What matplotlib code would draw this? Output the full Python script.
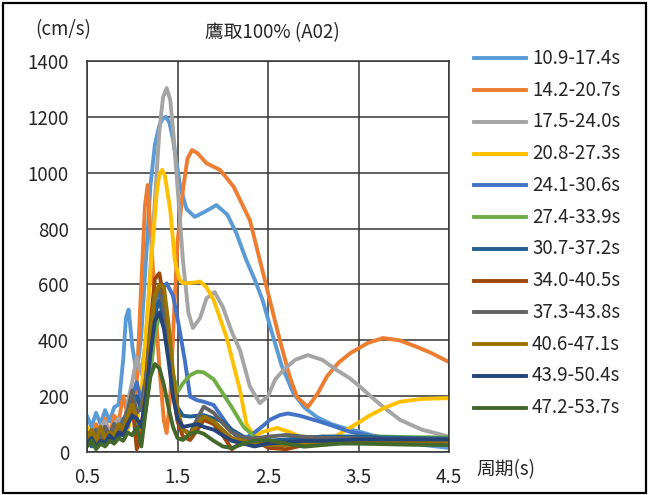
import matplotlib
matplotlib.use('Agg')
import matplotlib.pyplot as plt
from matplotlib.lines import Line2D
from matplotlib.patches import Rectangle

plt.rcParams['font.family'] = ['Noto Sans CJK JP', 'DejaVu Sans']

labels = ['10.9-17.4s', '14.2-20.7s', '17.5-24.0s', '20.8-27.3s', '24.1-30.6s', '27.4-33.9s',
          '30.7-37.2s', '34.0-40.5s', '37.3-43.8s', '40.6-47.1s', '43.9-50.4s', '47.2-53.7s']
colors = ['#5B9BD5', '#ED7D31', '#A5A5A5', '#FFC000', '#4472C4', '#70AD47',
          '#255E91', '#9E480E', '#636363', '#997300', '#264478', '#43682B']

# 10.9-17.4s
x1 = [0.5, 0.55, 0.6, 0.65, 0.7, 0.75, 0.8, 0.85, 0.9, 0.93, 0.96, 1.0, 1.05, 1.1, 1.15, 1.2, 1.25, 1.3,
      1.34, 1.37, 1.41, 1.45, 1.53, 1.6, 1.69, 1.8, 1.93, 2.05, 2.15, 2.26, 2.35, 2.44, 2.55, 2.65, 2.78,
      2.9, 3.04, 3.2, 3.35, 3.52, 3.7, 3.9, 4.1, 4.3, 4.5]
y1 = [130, 90, 140, 100, 150, 110, 160, 170, 330, 480, 510, 380, 280, 420, 680, 950, 1100, 1170,
      1195, 1200, 1180, 1120, 950, 870, 842, 860, 884, 850, 784, 687, 620, 544, 420, 310, 211,
      160, 125, 100, 85, 72, 55, 40, 30, 22, 15]

# 14.2-20.7s
x2 = [0.5, 0.55, 0.6, 0.65, 0.7, 0.75, 0.8, 0.85, 0.9, 0.95, 1.0, 1.05, 1.1, 1.14, 1.17, 1.2, 1.25, 1.3,
      1.35, 1.38, 1.42, 1.46, 1.5, 1.56, 1.61, 1.66, 1.72, 1.82, 1.97, 2.12, 2.3, 2.41, 2.52, 2.63, 2.74,
      2.82, 2.94, 3.05, 3.15, 3.28, 3.41, 3.6, 3.77, 3.95, 4.14, 4.3, 4.5]
y2 = [80, 40, 100, 60, 120, 60, 130, 110, 200, 130, 120, 250, 600, 880, 956, 800, 550, 300,
      110, 68, 200, 480, 750, 938, 1050, 1081, 1070, 1034, 1010, 950, 830, 687, 544, 401, 270,
      197, 161, 210, 270, 320, 354, 390, 408, 400, 377, 355, 322]

# 17.5-24.0s
x3 = [0.5, 0.55, 0.6, 0.65, 0.7, 0.75, 0.8, 0.85, 0.9, 0.95, 1.0, 1.05, 1.1, 1.15, 1.2, 1.25, 1.3, 1.34,
      1.38, 1.42, 1.46, 1.5, 1.56, 1.62, 1.67, 1.75, 1.82, 1.91, 2.0, 2.1, 2.19, 2.3, 2.41, 2.5, 2.58,
      2.67, 2.8, 2.94, 3.1, 3.26, 3.4, 3.52, 3.65, 3.77, 3.96, 4.2, 4.5]
y3 = [50, 80, 40, 90, 110, 60, 100, 120, 80, 180, 250, 340, 280, 400, 650, 900, 1150, 1270,
      1303, 1260, 1120, 950, 687, 500, 444, 480, 550, 573, 520, 430, 365, 234, 175, 200, 260,
      293, 330, 347, 330, 293, 265, 233, 195, 162, 115, 80, 55]

# 20.8-27.3s
x4 = [0.5, 0.55, 0.6, 0.65, 0.7, 0.75, 0.8, 0.85, 0.9, 0.95, 1.0, 1.05, 1.1, 1.15, 1.21, 1.27, 1.3, 1.33,
      1.36, 1.42, 1.47, 1.52, 1.56, 1.64, 1.75, 1.82, 1.9, 2.04, 2.19, 2.26, 2.3, 2.36, 2.45, 2.6, 2.75,
      2.85, 3.07, 3.2, 3.33, 3.5, 3.63, 3.8, 3.96, 4.2, 4.5]
y4 = [90, 50, 80, 40, 70, 50, 90, 60, 110, 80, 140, 120, 200, 420, 687, 927, 995, 1010,
      990, 866, 687, 620, 605, 605, 610, 590, 544, 413, 222, 103, 79, 60, 73, 86, 70,
      55, 31, 45, 73, 105, 132, 160, 180, 190, 193]

# 24.1-30.6s
x5 = [0.5, 0.55, 0.6, 0.65, 0.7, 0.75, 0.8, 0.85, 0.9, 0.95, 1.0, 1.05, 1.1, 1.15, 1.2, 1.25, 1.3, 1.38,
      1.45, 1.51, 1.58, 1.64, 1.72, 1.79, 1.9, 2.04, 2.15, 2.25, 2.34, 2.45, 2.52, 2.63, 2.72, 2.85, 3.07,
      3.25, 3.4, 3.6, 3.88, 4.2, 4.5]
y5 = [60, 30, 80, 40, 90, 50, 100, 70, 120, 90, 200, 250, 180, 260, 380, 480, 570, 604,
      560, 461, 330, 198, 185, 180, 168, 103, 55, 50, 67, 95, 115, 132, 138, 130, 109,
      90, 73, 60, 49, 45, 43]

# shared x for the rest
xs = [0.5, 0.55, 0.6, 0.65, 0.7, 0.75, 0.8, 0.85, 0.9, 0.95, 1.0, 1.05, 1.1, 1.15, 1.2, 1.25, 1.3, 1.35,
      1.4, 1.45, 1.5, 1.56, 1.64, 1.72, 1.79, 1.9, 2.0, 2.1, 2.23, 2.35, 2.5, 2.7, 2.9, 3.1, 3.3,
      3.5, 3.8, 4.1, 4.5]
y6 = [30, 60, 20, 50, 40, 70, 50, 80, 60, 110, 170, 100, 80, 150, 280, 420, 490, 470,
      380, 280, 215, 246, 275, 288, 285, 260, 210, 160, 90, 55, 30, 35, 50, 55, 55,
      55, 55, 53, 52]
y7 = [40, 20, 50, 30, 60, 40, 70, 50, 90, 110, 160, 200, 150, 230, 380, 500, 540, 480,
      350, 230, 160, 130, 127, 130, 132, 120, 110, 80, 55, 40, 40, 45, 50, 55, 55,
      55, 52, 50, 48]
y8 = [60, 30, 70, 40, 80, 50, 60, 90, 70, 120, 180, 10, 60, 250, 450, 620, 640, 540,
      380, 220, 110, 55, 43, 80, 115, 100, 60, 10, 40, 45, 15, 10, 25, 37, 35,
      35, 35, 38, 40]
y9 = [70, 40, 80, 50, 90, 60, 100, 80, 110, 150, 220, 140, 160, 260, 430, 560, 580, 520,
      380, 230, 120, 80, 67, 120, 162, 140, 103, 70, 50, 49, 55, 61, 55, 50, 50,
      48, 45, 45, 45]
y10 = [50, 80, 40, 90, 50, 70, 60, 100, 80, 130, 170, 120, 80, 230, 420, 560, 600, 590,
       460, 290, 150, 80, 61, 100, 127, 110, 79, 50, 40, 30, 25, 25, 30, 30, 35,
       38, 40, 40, 40]
y11 = [30, 50, 20, 40, 30, 60, 40, 70, 60, 100, 130, 120, 90, 200, 350, 470, 500, 440,
       330, 200, 120, 90, 95, 100, 90, 80, 60, 40, 30, 20, 30, 35, 40, 40, 42,
       45, 45, 45, 45]
y12 = [20, 40, 10, 30, 20, 40, 30, 50, 40, 70, 60, 90, 20, 150, 270, 315, 300, 240,
       160, 90, 50, 43, 65, 73, 65, 40, 20, 14, 30, 40, 43, 30, 19, 25, 30,
       30, 28, 26, 25]

xticks = [0.5, 1.5, 2.5, 3.5, 4.5]
yticks = [0, 200, 400, 600, 800, 1000, 1200, 1400]


def main():
    series = [(x1, y1), (x2, y2), (x3, y3), (x4, y4), (x5, y5), (xs, y6),
              (xs, y7), (xs, y8), (xs, y9), (xs, y10), (xs, y11), (xs, y12)]

    fig = plt.figure(figsize=(6.51, 4.95), dpi=100)
    ax = fig.add_axes([87 / 651, 43 / 495, 362 / 651, 391 / 495])

    for (x, y), c in zip(series, colors):
        ax.plot(x, y, color=c, lw=2.8, solid_joinstyle='round', solid_capstyle='round')

    ax.set_xlim(0.5, 4.5)
    ax.set_ylim(0, 1400)
    ax.set_xticks(xticks)
    ax.set_xticklabels([str(t) for t in xticks])
    ax.set_yticks(yticks)
    ax.tick_params(length=0, labelsize=13.5, colors='#262626')
    ax.tick_params(axis='y', pad=13)
    ax.tick_params(axis='x', pad=11)
    ax.grid(True, color='#333333', lw=1.1)
    ax.set_axisbelow(True)
    for s in ax.spines.values():
        s.set_color('#333333')
        s.set_linewidth(1.1)

    fig.text(272 / 651, 1 - 33 / 495, '鷹取100% (A02)', ha='center', va='center', fontsize=13.5, color='#262626')
    fig.text(35 / 651, 1 - 30 / 495, '(cm/s)', ha='left', va='center', fontsize=13.5, color='#262626')
    fig.text(476 / 651, 1 - 470 / 495, '周期(s)', ha='left', va='center', fontsize=13.5, color='#262626')

    # legend drawn by hand
    for i, (lab, c) in enumerate(zip(labels, colors)):
        yy = 1 - (58.3 + i * 31.76) / 495
        fig.add_artist(Line2D([474 / 651, 526 / 651], [yy, yy], color=c, lw=2.8,
                              transform=fig.transFigure))
        fig.text(532 / 651, yy, lab, ha='left', va='center', fontsize=13.5, color='#262626')

    fig.add_artist(Rectangle((3 / 651, 2 / 495), 643 / 651, 490 / 495, fill=False,
                             edgecolor='black', lw=1.6, transform=fig.transFigure))

    fig.savefig('out.png', dpi=100)


if __name__ == "__main__":
    main()
